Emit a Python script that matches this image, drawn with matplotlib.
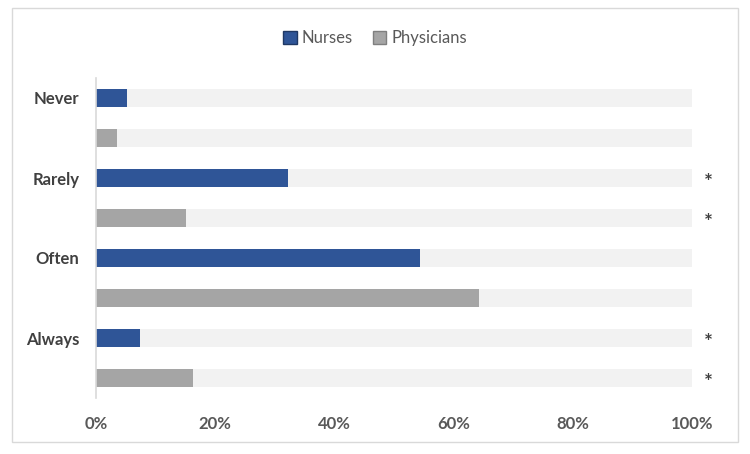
import matplotlib
matplotlib.use("Agg")
import matplotlib.pyplot as plt
from matplotlib.patches import Rectangle, Patch

plt.rcParams['font.family'] = ['Lato', 'DejaVu Sans']

categories = ["Never", "Rarely", "Often", "Always"]
nurses = [5.2, 32.2, 54.4, 7.4]
physicians = [3.5, 15.1, 64.3, 16.3]
nurse_sig = [False, True, False, True]
phys_sig = [False, True, False, True]
xticks = [0, 20, 40, 60, 80, 100]
xticklabels = ["0%", "20%", "40%", "60%", "80%", "100%"]

c_n = "#2F5597"
c_p = "#A5A5A5"
c_bg = "#F2F2F2"
c_txt = "#595959"

fig = plt.figure(figsize=(7.5, 4.54), dpi=100)
ax = fig.add_axes([96/750, 1-398/454, (692-96)/750, (398-78)/454])

h = 0.45
for i, cat in enumerate(categories):
    yn = 2*i
    yp = 2*i + 1
    ax.barh(yn, 100, height=h, color=c_bg, zorder=1)
    ax.barh(yp, 100, height=h, color=c_bg, zorder=1)
    ax.barh(yn, nurses[i], height=h, color=c_n, zorder=2)
    ax.barh(yp, physicians[i], height=h, color=c_p, zorder=2)
    for y, sig in ((yn, nurse_sig[i]), (yp, phys_sig[i])):
        if sig:
            ax.text(102.7, y + 0.13, "*", ha="center", va="center", fontsize=15,
                    fontweight="bold", color="#404040", clip_on=False)

ax.set_xlim(0, 100)
ax.set_ylim(7.5, -0.5)
ax.set_yticks([2*i for i in range(len(categories))])
ax.set_yticklabels(categories, fontsize=12, fontweight="bold", color="#404040")
ax.set_xticks(xticks)
ax.set_xticklabels(xticklabels, fontsize=12, fontweight="bold", color=c_txt)
ax.tick_params(axis="y", length=0, pad=12)
ax.tick_params(axis="x", length=0, pad=13)
for s in ["top", "right", "bottom"]:
    ax.spines[s].set_visible(False)
ax.spines["left"].set_color("#D9D9D9")
ax.spines["left"].set_linewidth(1.2)

handles = [Patch(facecolor=c_n, edgecolor="#1F3864", label="Nurses"),
           Patch(facecolor=c_p, edgecolor="#7F7F7F", label="Physicians")]
fig.legend(handles=handles, loc="center", bbox_to_anchor=(0.5, 1-38/454),
           ncol=2, frameon=False, fontsize=12, labelcolor=c_txt,
           handlelength=0.8, handleheight=0.8, handletextpad=0.3, columnspacing=1.2)

fig.patches.append(Rectangle((12/750, 1-442/454), (738-12)/750, (442-8)/454,
                             transform=fig.transFigure, fill=False,
                             edgecolor="#D9D9D9", linewidth=1))

fig.savefig("out.png", dpi=100)
